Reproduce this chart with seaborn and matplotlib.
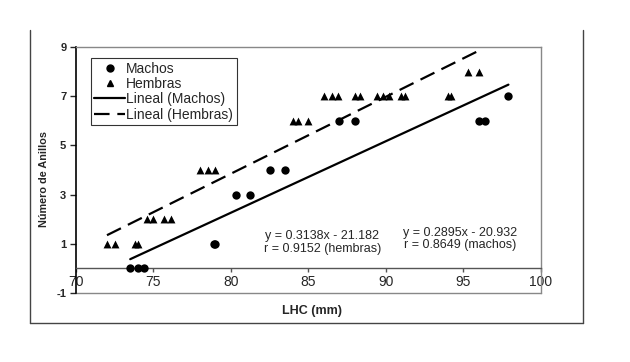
import matplotlib
matplotlib.use("Agg")
import matplotlib.pyplot as plt
from matplotlib.lines import Line2D
import numpy as np
import pandas as pd
import seaborn as sns

# Machos (circulos)
machos_lhc = [73.5, 74.0, 74.4, 78.9, 79.0, 80.3, 81.2, 82.5, 83.5, 87.0, 88.0, 96.0, 96.4, 97.9]
machos_anillos = [0, 0, 0, 1, 1, 3, 3, 4, 4, 6, 6, 6, 6, 7]

# Hembras (triangulos)
hembras_lhc = [72.0, 72.5, 73.8, 74.0, 74.6, 75.0, 75.7, 76.1, 78.0, 78.5, 79.0,
               84.0, 84.3, 85.0, 86.0, 86.5, 86.9, 88.0, 88.3, 89.4, 89.8, 90.2,
               91.0, 91.2, 94.0, 94.2, 95.3, 96.0]
hembras_anillos = [1, 1, 1, 1, 2, 2, 2, 2, 4, 4, 4,
                   6, 6, 6, 7, 7, 7, 7, 7, 7, 7, 7,
                   7, 7, 7, 7, 8, 8]

x_ticks = [70, 75, 80, 85, 90, 95, 100]
y_ticks = [-1, 1, 3, 5, 7, 9]

texto_hembras = "y = 0.3138x - 21.182\nr = 0.9152 (hembras)"
texto_machos = "y = 0.2895x - 20.932\nr = 0.8649 (machos)"

df_m = pd.DataFrame({"LHC": machos_lhc, "Anillos": machos_anillos})
df_h = pd.DataFrame({"LHC": hembras_lhc, "Anillos": hembras_anillos})

sns.set_style("white")
plt.rcParams["font.family"] = ["Liberation Sans", "DejaVu Sans"]

fig = plt.figure(figsize=(6.3, 3.62), dpi=100)
ax = fig.add_axes([0.1206, 0.1906, 0.7381, 0.6796])

sns.scatterplot(data=df_m, x="LHC", y="Anillos", marker="o", color="black",
                s=36, edgecolor="black", linewidth=0, ax=ax, zorder=3)
sns.scatterplot(data=df_h, x="LHC", y="Anillos", marker="^", color="black",
                s=32, edgecolor="black", linewidth=0, ax=ax, zorder=3)

# lineas de tendencia
sns.regplot(data=df_m, x="LHC", y="Anillos", scatter=False, ci=None, truncate=True,
            color="black", line_kws={"lw": 1.6}, ax=ax)
sns.regplot(data=df_h, x="LHC", y="Anillos", scatter=False, ci=None, truncate=True,
            color="black", line_kws={"lw": 1.6, "linestyle": (0, (7, 3.5))}, ax=ax)

ax.set_xlim(70, 100)
ax.set_ylim(-1, 9)
ax.set_xticks(x_ticks)
ax.set_yticks(y_ticks)
ax.set_xticklabels([str(t) for t in x_ticks], fontsize=8, fontweight="bold")
ax.set_yticklabels([str(t) for t in y_ticks], fontsize=8, fontweight="bold")

ax.spines["bottom"].set_position(("data", 0))
ax.spines["bottom"].set_color("#555555")
ax.spines["bottom"].set_linewidth(1.0)
ax.spines["left"].set_color("black")
ax.spines["left"].set_linewidth(1.2)
for s in ["top", "right"]:
    ax.spines[s].set_color("#888888")
    ax.spines[s].set_linewidth(1.0)
ax.axhline(-1, color="#888888", lw=1.0, clip_on=False)

ax.tick_params(axis="y", direction="out", length=4, width=1, left=True, pad=3)
ax.tick_params(axis="x", direction="out", length=3, width=1, bottom=True, pad=1.5,
               color="#555555")

ax.set_xlabel("LHC (mm)", fontsize=9, fontweight="bold", labelpad=0)
ax.xaxis.set_label_coords(0.508, -0.05)
ax.set_ylabel("Número de Anillos", fontsize=7.8, fontweight="bold")
ax.yaxis.set_label_coords(-0.058, 0.463)

ax.text(85.9, 1.05, texto_hembras, ha="center", va="center", fontsize=9,
        linespacing=1.05)
ax.text(94.8, 1.2, texto_machos, ha="center", va="center", fontsize=9,
        linespacing=1.05)

handles = [
    Line2D([], [], marker="o", color="black", lw=0, markersize=5),
    Line2D([], [], marker="^", color="black", lw=0, markersize=5),
    Line2D([], [], color="black", lw=1.6),
    Line2D([], [], color="black", lw=1.6, linestyle=(0, (7, 3.5))),
]
labels = ["Machos", "Hembras", "Lineal (Machos)", "Lineal (Hembras)"]
leg = ax.legend(handles, labels, loc="upper left", bbox_to_anchor=(0.032, 0.955),
                borderaxespad=0, fontsize=10, frameon=True, fancybox=False,
                handlelength=2.2, handletextpad=0.1, labelspacing=0.1,
                borderpad=0.25)
leg.get_frame().set_edgecolor("black")
leg.get_frame().set_linewidth(0.8)

# marco exterior
for xs, ys in [([0.047, 0.047], [0.917, 0.108]),
               ([0.047, 0.925], [0.108, 0.108]),
               ([0.925, 0.925], [0.108, 0.917])]:
    fig.add_artist(Line2D(xs, ys, transform=fig.transFigure, color="#444444", lw=1.0))

fig.savefig("out.png", dpi=100)
